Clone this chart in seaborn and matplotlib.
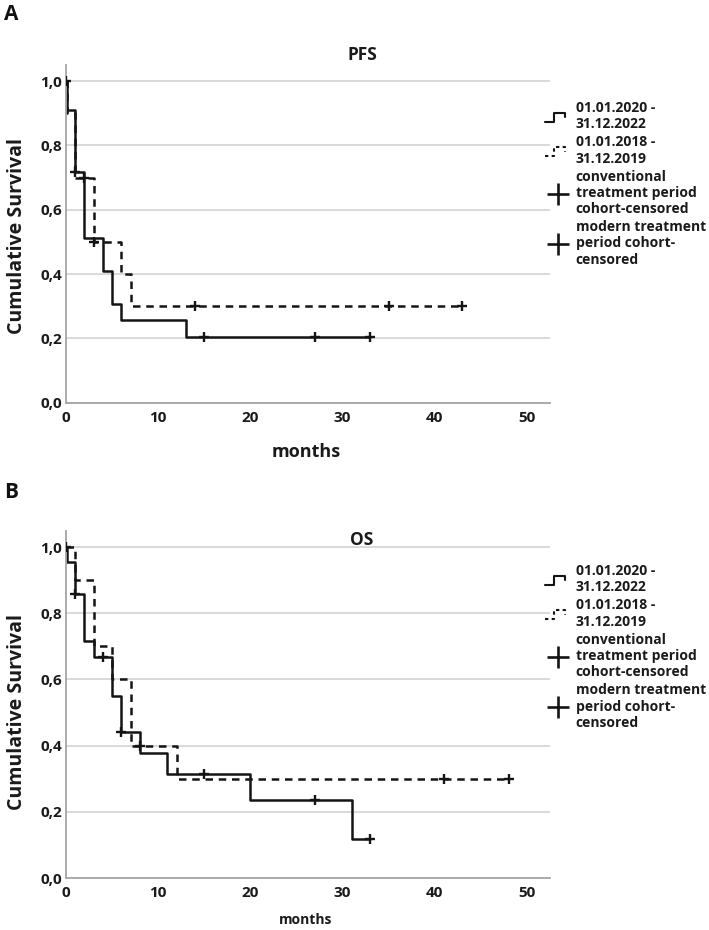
import numpy as np
import pandas as pd
import matplotlib
matplotlib.use('Agg')
import matplotlib.pyplot as plt
import seaborn as sns
from matplotlib.lines import Line2D
from matplotlib.legend_handler import HandlerBase

# PFS, 01.01.2020 - 31.12.2022 (solid)
pfs_new_t = [0, 0.1, 1, 2, 4, 5, 6, 13, 33]
pfs_new_s = [1.0, 0.909, 0.717, 0.512, 0.41, 0.307, 0.256, 0.205, 0.205]
pfs_new_cens_t = [0, 1, 15, 27, 33]
pfs_new_cens_s = [1.0, 0.717, 0.205, 0.205, 0.205]
# PFS, 01.01.2018 - 31.12.2019 (dashed)
pfs_old_t = [0, 0.1, 1, 3, 6, 7, 43]
pfs_old_s = [1.0, 0.9, 0.7, 0.5, 0.4, 0.3, 0.3]
pfs_old_cens_t = [2, 3, 14, 35, 43]
pfs_old_cens_s = [0.7, 0.5, 0.3, 0.3, 0.3]

# OS, solid
os_new_t = [0, 0.1, 1, 2, 3, 5, 6, 8, 11, 20, 31, 33]
os_new_s = [1.0, 0.955, 0.859, 0.716, 0.668, 0.549, 0.44, 0.377, 0.314, 0.235, 0.118, 0.118]
os_new_cens_t = [1, 4, 6, 15, 27, 33]
os_new_cens_s = [0.859, 0.668, 0.44, 0.314, 0.235, 0.118]
# OS, dashed
os_old_t = [0, 1, 3, 5, 7, 12, 48]
os_old_s = [1.0, 0.9, 0.7, 0.6, 0.4, 0.3, 0.3]
os_old_cens_t = [0, 8, 41, 48]
os_old_cens_s = [1.0, 0.4, 0.3, 0.3]

x_ticks = [0, 10, 20, 30, 40, 50]
y_ticks = [0.0, 0.2, 0.4, 0.6, 0.8, 1.0]
y_ticklabels = ['0,0', '0,2', '0,4', '0,6', '0,8', '1,0']
legend_labels = ['01.01.2020 -\n31.12.2022', '01.01.2018 -\n31.12.2019',
                 'conventional\ntreatment period\ncohort-censored',
                 'modern treatment\nperiod cohort-\ncensored']

INK = '#141414'
TXT = '#1a1a1a'
DASH = (3.0, 2.3)

sns.set_theme(style='white')
plt.rcParams['font.family'] = ['Open Sans', 'DejaVu Sans']
plt.rcParams['font.weight'] = 'bold'


class StepHandler(HandlerBase):
    def __init__(self, ls):
        super().__init__()
        self.ls = ls

    def create_artists(self, legend, orig_handle, xdescent, ydescent, width, height, fontsize, trans):
        xs = np.array([0.0, 0.35, 0.35, 0.8, 0.8]) * width - xdescent
        ys = np.array([0.0, 0.0, 0.9, 0.9, 0.45]) * height - ydescent
        ln = Line2D(xs, ys, color=INK, lw=1.5, linestyle=self.ls, transform=trans)
        return [ln]


def draw_panel(ax, new_t, new_s, old_t, old_s, nc_t, nc_s, oc_t, oc_s):
    df = pd.concat([
        pd.DataFrame({'months': new_t, 'surv': new_s, 'group': 'new'}),
        pd.DataFrame({'months': old_t, 'surv': old_s, 'group': 'old'}),
    ])
    sns.lineplot(data=df, x='months', y='surv', style='group', style_order=['new', 'old'],
                 dashes={'new': '', 'old': DASH}, color=INK, linewidth=1.8,
                 drawstyle='steps-post', estimator=None, sort=False, legend=False, ax=ax)
    cens = pd.DataFrame({'months': nc_t + oc_t, 'surv': nc_s + oc_s})
    sns.scatterplot(data=cens, x='months', y='surv', marker='+', s=60, color=INK,
                    linewidth=1.7, ax=ax, zorder=3, legend=False)
    ax.set_xlim(0, 52.5)
    ax.set_ylim(0, 1.05)
    ax.set_xticks(x_ticks)
    ax.set_yticks(y_ticks)
    ax.set_yticklabels(y_ticklabels)
    ax.grid(axis='y', color='#cfcfcf', lw=1.1)
    ax.grid(axis='x', visible=False)
    ax.tick_params(axis='both', length=0, labelsize=11, colors=TXT)
    ax.tick_params(axis='x', pad=6)
    ax.tick_params(axis='y', pad=3)
    for lab in ax.get_xticklabels() + ax.get_yticklabels():
        lab.set_fontweight('bold')
    for side in ['top', 'right']:
        ax.spines[side].set_visible(False)
    for side in ['left', 'bottom']:
        ax.spines[side].set_color('#a5a5a5')
        ax.spines[side].set_linewidth(1.3)
    ax.set_xlabel('')
    ax.set_ylabel('')


W, H = 709, 930
fig = plt.figure(figsize=(W / 100, H / 100), dpi=100)
ax_top = fig.add_axes([66 / W, 1 - 402.7 / H, 484 / W, 337.7 / H])
ax_bot = fig.add_axes([66 / W, 1 - 878 / H, 484 / W, 347.5 / H])

draw_panel(ax_top, pfs_new_t, pfs_new_s, pfs_old_t, pfs_old_s,
           pfs_new_cens_t, pfs_new_cens_s, pfs_old_cens_t, pfs_old_cens_s)
draw_panel(ax_bot, os_new_t, os_new_s, os_old_t, os_old_s,
           os_new_cens_t, os_new_cens_s, os_old_cens_t, os_old_cens_s)

h_new = Line2D([], [], color=INK)
h_old = Line2D([], [], color=INK)
h_c1 = Line2D([], [], color=INK, marker='+', ls='none', markersize=16, mew=1.9)
h_c2 = Line2D([], [], color=INK, marker='+', ls='none', markersize=16, mew=1.9)
hmap = {h_new: StepHandler('-'), h_old: StepHandler((0, (1.6, 1.6)))}

for ax, top_px in [(ax_top, 101), (ax_bot, 564)]:
    leg = ax.legend([h_new, h_old, h_c1, h_c2], legend_labels, handler_map=hmap,
                    loc='upper left', bbox_to_anchor=(545 / W, 1 - top_px / H),
                    bbox_transform=fig.transFigure, frameon=False,
                    handlelength=1.8, handletextpad=0.4, labelspacing=0.3,
                    borderpad=0, borderaxespad=0, prop={'weight': 'bold', 'size': 10})
    for t in leg.get_texts():
        t.set_color(TXT)
        t.set_linespacing(1.2)

fig.text(4 / W, 1 - 14 / H, 'A', fontsize=15, fontweight='bold', va='center', ha='left', color='#111')
fig.text(4 / W, 1 - 492 / H, 'B', fontsize=15, fontweight='bold', va='center', ha='left', color='#111')
fig.text(362 / W, 1 - 55 / H, 'PFS', fontsize=12.5, fontweight='bold', ha='center', va='center', color=TXT)
fig.text(362 / W, 1 - 540 / H, 'OS', fontsize=12.5, fontweight='bold', ha='center', va='center', color=TXT)
fig.text(17 / W, 1 - 236 / H, 'Cumulative Survival', rotation=90, fontsize=14, fontweight='bold',
         ha='center', va='center', color=TXT)
fig.text(17 / W, 1 - 712 / H, 'Cumulative Survival', rotation=90, fontsize=14, fontweight='bold',
         ha='center', va='center', color=TXT)
fig.text(306 / W, 1 - 452 / H, 'months', fontsize=13, fontweight='bold', ha='center', va='center', color=TXT)
fig.text(306 / W, 1 - 920 / H, 'months', fontsize=10, fontweight='bold', ha='center', va='center', color=TXT)

fig.savefig('out.png', dpi=100, facecolor='white')
